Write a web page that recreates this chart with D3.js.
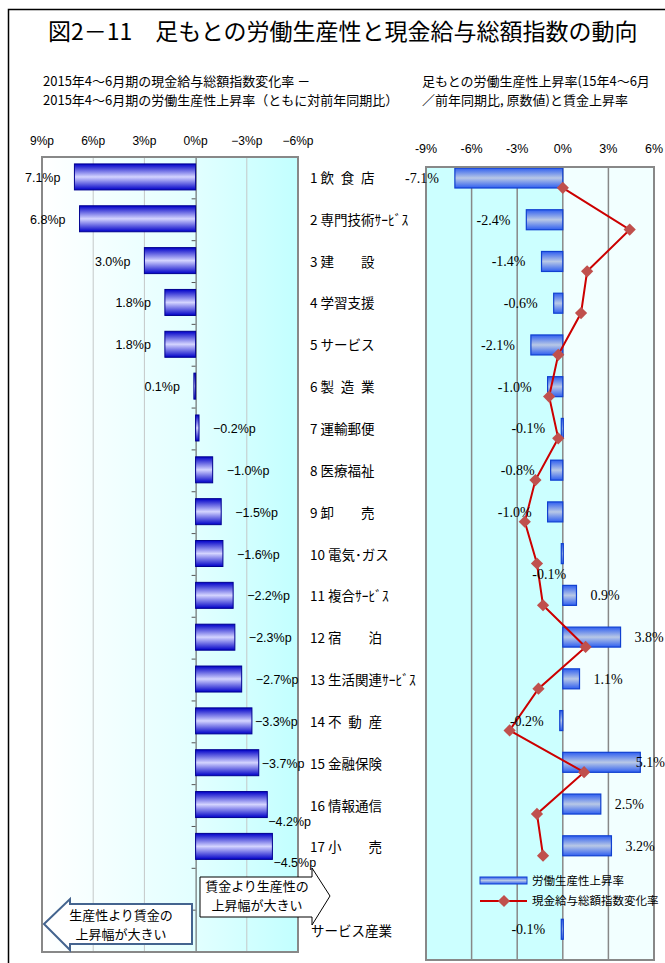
<!DOCTYPE html>
<meta charset="utf-8">
<style>
body { margin: 0; background: #fff; }
text { font-family: "Noto Sans CJK JP", "Noto Sans", sans-serif; }
.num { font-family: "Liberation Sans", Arial, sans-serif; }
.serif { font-family: "Liberation Serif", "Times New Roman", serif; }
</style>
<body>
<script src="https://d3js.org/d3.v7.min.js"></script>
<script>

var width = 665, height = 963;

// industries (slot 18 is an empty spacer row)
var categories = ["1 飲\u2002食\u2002店", "2 専門技術ｻｰﾋﾞｽ", "3 建　　設", "4 学習支援", "5 サービス",
  "6 製\u2002造\u2002業", "7 運輸郵便", "8 医療福祉", "9 卸　　売", "10 電気･ガス", "11 複合ｻｰﾋﾞｽ",
  "12 宿　　泊", "13 生活関連ｻｰﾋﾞｽ", "14 不\u2002動\u2002産", "15 金融保険", "16 情報通信", "17 小　　売",
  "", "サービス産業"];

// wage change minus productivity growth (%p)
var gapValues = [7.1, 6.8, 3.0, 1.8, 1.8, 0.1, -0.2, -1.0, -1.5, -1.6, -2.2, -2.3, -2.7, -3.3, -3.7, -4.2, -4.5, null, null];

// labour productivity growth (%)
var productivity = [-7.1, -2.4, -1.4, -0.6, -2.1, -1.0, -0.1, -0.8, -1.0, -0.1, 0.9, 3.8, 1.1, -0.2, 5.1, 2.5, 3.2, null, -0.1];

// cash earnings index change (%)
var wageChange = [0.0, 4.4, 1.6, 1.2, -0.3, -0.9, -0.3, -1.8, -2.5, -1.7, -1.3, 1.5, -1.6, -3.5, 1.4, -1.7, -1.3, null, null];

var leftTicks = [9, 6, 3, 0, -3, -6];
var rightTicks = [-9, -6, -3, 0, 3, 6];

var fmtP = d => (d < 0 ? "−" : "") + Math.abs(d).toFixed(1) + "%p";
var fmtR = d => d.toFixed(1) + "%";

var svg = d3.select("body").append("svg")
    .attr("width", width)
    .attr("height", height);

var defs = svg.append("defs");

function vGrad(id, edge, mid) {
  var g = defs.append("linearGradient").attr("id", id)
      .attr("x1", 0).attr("y1", 0).attr("x2", 0).attr("y2", 1);
  g.append("stop").attr("offset", "0%").attr("stop-color", edge);
  g.append("stop").attr("offset", "50%").attr("stop-color", mid);
  g.append("stop").attr("offset", "100%").attr("stop-color", edge);
}
vGrad("barL", "#0000c8", "#d4d4ff");
vGrad("barR", "#2f5ff0", "#b8c8e6");

var bgL = defs.append("linearGradient").attr("id", "bgL")
    .attr("x1", 0).attr("y1", 0).attr("x2", 1).attr("y2", 0);
bgL.append("stop").attr("offset", "0%").attr("stop-color", "#ffffff");
bgL.append("stop").attr("offset", "60%").attr("stop-color", "#e2ffff");
bgL.append("stop").attr("offset", "100%").attr("stop-color", "#c2ffff");

// outer frame
svg.append("rect")
    .attr("x", 8.5).attr("y", 9.5)
    .attr("width", 720).attr("height", 1000)
    .attr("fill", "none").attr("stroke", "#000").attr("stroke-width", 1.5);

// title & subtitles
svg.append("text")
    .attr("x", 48).attr("y", 40)
    .attr("font-size", 23)
    .text("図2－11　足もとの労働生産性と現金給与総額指数の動向");

var sub = [
  {x: 43, y: 86, t: "2015年4〜6月期の現金給与総額指数変化率 －"},
  {x: 43, y: 105, t: "2015年4〜6月期の労働生産性上昇率（ともに対前年同期比）"},
  {x: 422, y: 86, t: "足もとの労働生産性上昇率(15年4〜6月"},
  {x: 422, y: 105, t: "／前年同期比, 原数値)と賃金上昇率"}
];
svg.selectAll("text.sub").data(sub).enter().append("text")
    .attr("class", "sub")
    .attr("x", d => d.x).attr("y", d => d.y)
    .attr("font-size", 13)
    .text(d => d.t);

// ---------- left chart ----------
var xL = d3.scaleLinear().domain([9, -6]).range([42, 298]);
var yL = d3.scaleBand().domain(d3.range(categories.length)).range([157, 952]);

var left = svg.append("g");

left.append("rect")
    .attr("x", xL(9)).attr("y", 157)
    .attr("width", xL(-6) - xL(9)).attr("height", 952 - 157)
    .attr("fill", "url(#bgL)");

left.selectAll("line.grid").data([6, 3, -3]).enter().append("line")
    .attr("x1", d => xL(d)).attr("x2", d => xL(d))
    .attr("y1", 157).attr("y2", 952)
    .attr("stroke", "#c4c8c8").attr("stroke-width", 1);

left.append("g")
    .attr("transform", "translate(" + xL(0) + ",0)")
    .call(d3.axisLeft(yL).tickSize(0).tickFormat(""))
    .call(g => g.select(".domain").attr("stroke", "#555"))
    .call(g => g.selectAll(".bound").data(d3.range(1, categories.length)).enter().append("line")
        .attr("x1", -4).attr("x2", 0)
        .attr("y1", d => yL(d)).attr("y2", d => yL(d))
        .attr("stroke", "#555"));

left.selectAll("text.tick").data(leftTicks).enter().append("text")
    .attr("class", "num")
    .attr("x", d => xL(d)).attr("y", 145)
    .attr("text-anchor", "middle")
    .attr("font-size", 12)
    .text(d => (d < 0 ? "−" + (-d) : d) + "%p");

var barH = 26;
var gapData = gapValues.map((v, i) => ({v: v, i: i})).filter(d => d.v !== null);

left.selectAll("rect.bar").data(gapData).enter().append("rect")
    .attr("x", d => Math.min(xL(d.v), xL(0)))
    .attr("y", d => yL(d.i) + yL.bandwidth() / 2 - barH / 2 - 1)
    .attr("width", d => Math.max(Math.abs(xL(d.v) - xL(0)), 1.5))
    .attr("height", barH)
    .attr("fill", "url(#barL)")
    .attr("stroke", "#000090").attr("stroke-width", 1);

left.append("rect")
    .attr("x", xL(9)).attr("y", 157)
    .attr("width", xL(-6) - xL(9)).attr("height", 952 - 157)
    .attr("fill", "none").attr("stroke", "#888").attr("stroke-width", 2);

var labL = left.selectAll("text.lab").data(gapData).enter().append("text")
    .attr("class", "num")
    .attr("font-size", 12.5)
    .attr("y", d => yL(d.i) + yL.bandwidth() / 2 + 4)
    .text(d => fmtP(d.v));

labL.each(function(d) {
  var t = d3.select(this), w = this.getComputedTextLength(), end = xL(d.v);
  if (d.v >= 0) {
    t.attr("text-anchor", "end").attr("x", end - 14);
  } else if (end + 14 + w <= 300) {
    t.attr("x", end + 14);
  } else if (end + 3 + w <= 306) {
    t.attr("x", end + 3);
  } else {
    t.attr("x", end + 1).attr("dy", 16);
  }
});

// category labels
svg.selectAll("text.cat").data(categories).enter().append("text")
    .attr("class", "cat")
    .attr("x", (d, i) => i === categories.length - 1 ? 311 : 310)
    .attr("y", (d, i) => yL(i) + yL.bandwidth() / 2 + 5)
    .attr("font-size", 13.5)
    .text(d => d);

// arrows
svg.append("path")
    .attr("d", "M44,924 L70,899 L70,904 L192,904 L192,944 L70,944 L70,950 Z")
    .attr("fill", "#fff").attr("stroke", "#44648f").attr("stroke-width", 2);
svg.selectAll("text.arL").data(["生産性より賃金の", "上昇幅が大きい"]).enter().append("text")
    .attr("x", 121).attr("y", (d, i) => 920 + i * 19)
    .attr("text-anchor", "middle").attr("font-size", 13)
    .text(d => d);

svg.append("path")
    .attr("d", "M200,877 L312,877 L312,868 L330,896 L312,925 L312,917 L200,917 Z")
    .attr("fill", "#fff").attr("stroke", "#000").attr("stroke-width", 1);
svg.selectAll("text.arR").data(["賃金より生産性の", "上昇幅が大きい"]).enter().append("text")
    .attr("x", 257).attr("y", (d, i) => 891 + i * 19)
    .attr("text-anchor", "middle").attr("font-size", 13)
    .text(d => d);

// ---------- right chart ----------
var xR = d3.scaleLinear().domain([-9, 6]).range([426, 654]);
var yR = d3.scaleBand().domain(d3.range(categories.length)).range([167, 960]);

var right = svg.append("g");

right.append("rect")
    .attr("x", xR(-9)).attr("y", 167)
    .attr("width", xR(0) - xR(-9)).attr("height", 960 - 167)
    .attr("fill", "#ccffff");
right.append("rect")
    .attr("x", xR(0)).attr("y", 167)
    .attr("width", xR(6) - xR(0)).attr("height", 960 - 167)
    .attr("fill", "#f2ffff");

right.selectAll("line.grid").data([-6, -3, 0, 3]).enter().append("line")
    .attr("x1", d => xR(d)).attr("x2", d => xR(d))
    .attr("y1", 167).attr("y2", 960)
    .attr("stroke", "#888").attr("stroke-width", 1.5);

right.selectAll("text.tick").data(rightTicks).enter().append("text")
    .attr("class", "num")
    .attr("x", d => xR(d)).attr("y", 153)
    .attr("text-anchor", "middle")
    .attr("font-size", 12.5)
    .text(d => d + "%");

var prodData = productivity.map((v, i) => ({v: v, i: i})).filter(d => d.v !== null);

right.selectAll("rect.bar").data(prodData).enter().append("rect")
    .attr("x", d => Math.min(xR(d.v), xR(0)))
    .attr("y", d => yR(d.i) + 1)
    .attr("width", d => Math.max(Math.abs(xR(d.v) - xR(0)), 2))
    .attr("height", 20)
    .attr("fill", "url(#barR)")
    .attr("stroke", "#1040d0").attr("stroke-width", 1.2);

right.append("rect")
    .attr("x", xR(-9)).attr("y", 167)
    .attr("width", xR(6) - xR(-9)).attr("height", 960 - 167)
    .attr("fill", "none").attr("stroke", "#888").attr("stroke-width", 2);

var wageData = wageChange.map((v, i) => ({v: v, i: i})).filter(d => d.v !== null);

var line = d3.line()
    .x(d => xR(d.v))
    .y(d => yR(d.i) + yR.bandwidth() / 2);

right.append("path")
    .datum(wageData)
    .attr("d", line)
    .attr("fill", "none").attr("stroke", "#cc0000").attr("stroke-width", 2);

var diamond = d3.symbol().type(d3.symbolDiamond2).size(95);

right.selectAll("path.mk").data(wageData).enter().append("path")
    .attr("class", "mk")
    .attr("transform", d => "translate(" + xR(d.v) + "," + (yR(d.i) + yR.bandwidth() / 2) + ")")
    .attr("d", diamond)
    .attr("fill", "#c0504d");

var labR = right.selectAll("text.lab").data(prodData).enter().append("text")
    .attr("class", "serif")
    .attr("font-size", 14)
    .attr("y", d => yR(d.i) + 16)
    .text(d => fmtR(d.v));

labR.each(function(d) {
  var t = d3.select(this), w = this.getComputedTextLength(), end = xR(d.v);
  if (d.v < 0) {
    var mk = wageChange[d.i];
    var hit = mk !== null && Math.abs(d.v) < 0.15 &&
        xR(mk) > end - 16 - w + 8 && xR(mk) < end - 16;
    if (hit) {
      // tiny bar whose label sits on the marker: drop it below
      t.attr("text-anchor", "middle").attr("x", end - 12).attr("dy", 20);
    } else {
      t.attr("text-anchor", "end").attr("x", end - 16);
    }
  } else {
    t.attr("x", Math.min(end + 14, width - w));
  }
});

// legend
var lg = svg.append("g").attr("transform", "translate(480,0)");
lg.append("rect")
    .attr("x", 0).attr("y", 877).attr("width", 47).attr("height", 7)
    .attr("fill", "url(#barR)").attr("stroke", "#1040d0");
lg.append("line")
    .attr("x1", 0).attr("x2", 47).attr("y1", 901).attr("y2", 901)
    .attr("stroke", "#cc0000").attr("stroke-width", 2);
lg.append("path")
    .attr("transform", "translate(24,901)")
    .attr("d", diamond)
    .attr("fill", "#c0504d");
lg.selectAll("text").data(["労働生産性上昇率", "現金給与総額指数変化率"]).enter().append("text")
    .attr("x", 52).attr("y", (d, i) => 885 + i * 20)
    .attr("font-size", 11.5)
    .text(d => d);

</script>
